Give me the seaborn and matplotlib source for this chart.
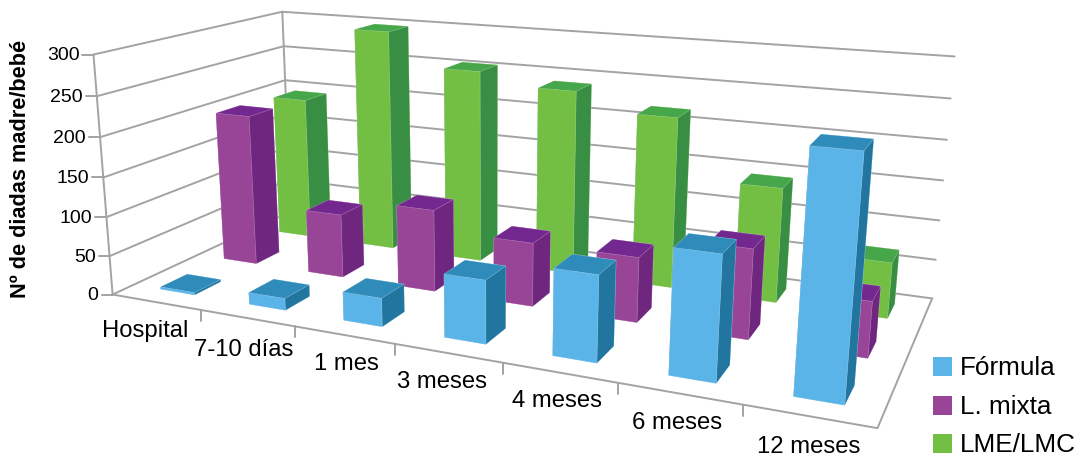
import numpy as np
import matplotlib
matplotlib.use("Agg")
import matplotlib.pyplot as plt
from matplotlib.lines import Line2D
from matplotlib.patches import Rectangle
from mpl_toolkits.mplot3d import Axes3D  # noqa: F401
import seaborn as sns

# Chart data
categories = ["Hospital", "7-10 días", "1 mes", "3 meses", "4 meses", "6 meses", "12 meses"]
series_names = ["Fórmula", "L. mixta", "LME/LMC"]
formula = [3, 15, 35, 76, 101, 142, 263]
mixta = [199, 83, 105, 80, 80, 108, 66]
lme = [195, 298, 255, 240, 218, 144, 69]
z_ticks = [0, 50, 100, 150, 200, 250, 300]
y_title = "Nº de diadas madre/bebé"

# Front, side and top shades per series
front_colors = ["#5AB4E8", "#984497", "#72BF44"]
side_colors = ["#21759F", "#6E267F", "#388E42"]
top_colors = ["#2F8BB9", "#73288F", "#46A64A"]

sns.set_theme(style="white")
plt.rcParams["font.family"] = ["Liberation Sans", "DejaVu Sans"]

W, H = 1078, 456
GREY = "#A3A3A3"
n = len(categories)
ZMAX = 300
BAR_W = 0.39
BAR_D = 0.135
BAND = 1 / 3
X_SHIFT = 0.012
DEPTH_START = 0.168
LINE_W = 1.4

# Camera calibration: box corners and axis ticks (x, depth, z) -> pixel position
calib = [
    ((0, 0, 0), (112.7, 294)), ((0, 0, 300), (93, 55)), ((0, 0, 150), (101.7, 177.7)),
    ((0, 1, 300), (283.5, 13.5)), ((0, 1, 0), (289, 213)),
    ((7, 1, 300), (954.3, 57.7)), ((7, 1, 150), (943.3, 181)), ((7, 1, 0), (932.7, 298.3)),
    ((7, 0, 0), (878.7, 429.3)), ((1, 0, 0), (202.3, 311.7)), ((2, 0, 0), (297.3, 328.3)),
    ((3, 0, 0), (394, 345)), ((6, 0, 0), (740, 406.7)),
]


def camera_matrix():
    rows, rhs = [], []
    for (x, y, z), (px, py) in calib:
        a, b, c = x / 7, y, z / 300
        u, v = px / 1000, (H - py) / 1000
        rows.append([a, b, c, 1, 0, 0, 0, 0, -u * a, -u * b, -u * c])
        rhs.append(u)
        rows.append([0, 0, 0, 0, a, b, c, 1, -v * a, -v * b, -v * c])
        rhs.append(v)
    h = np.linalg.lstsq(np.array(rows), np.array(rhs), rcond=None)[0]
    scale = np.diag([1 / 7, 1, 1 / 300, 1])
    top = np.array([h[:4], h[4:8]]) * 1000
    last = np.array([h[8], h[9], h[10], 1.0])
    depth = np.array([-1 / BAR_W, 1 / BAR_D, -1 / ZMAX, 0]) * np.array([7, 1, 300, 1])
    return np.vstack([top[0], top[1], depth, last]) @ scale


M = camera_matrix()


def project(x, y, z):
    p = M @ np.array([x, y, z, 1.0])
    return p[0] / p[3], p[1] / p[3]


fig = plt.figure(figsize=(W / 100, H / 100), dpi=100, facecolor="white")
# mplot3d keeps its axes square, so use a square that covers the whole canvas
ax = fig.add_axes([0, (H - W) / 2 / H, 1, W / H], projection="3d", computed_zorder=False)
ax.set_axis_off()
ax.patch.set_visible(False)
ax.set_proj_type("ortho")  # turns off the near-plane clipping of 3D lines
ax.get_proj = lambda: M
ax.viewLim.intervalx = (0, W)
ax.viewLim.intervaly = ((H - W) / 2, (H + W) / 2)

grid = dict(color=GREY, lw=LINE_W, zorder=1, solid_capstyle="round")
for z in z_ticks:
    ax.plot([0, 0, n], [0, 1, 1], [z, z, z], **grid)
ax.plot([0, 0], [0, 0], [0, ZMAX], **grid)
ax.plot([0, 0], [1, 1], [0, ZMAX], **grid)
ax.plot([0, n, n], [0, 0, 1], [0, 0, 0], **grid)

# Bars are painted from the back row forward and from right to left
rows = [formula, mixta, lme]
order = 10
for s in (2, 1, 0):
    for i in range(n - 1, -1, -1):
        f, t, r = front_colors[s], top_colors[s], side_colors[s]
        ax.bar3d(i + (1 - BAR_W) / 2 + X_SHIFT, DEPTH_START + s * BAND - BAR_D / 2, 0,
                 BAR_W, BAR_D, rows[s][i],
                 color=[f, t, f, f, r, r], shade=False, zorder=order,
                 edgecolor=(1, 1, 1, 0.25), linewidth=0.4)
        order += 1


def to_fig(px, py_up):
    return px / W, py_up / H


def hline(x0, y0, x1, y1):
    a = to_fig(x0, y0)
    b = to_fig(x1, y1)
    fig.add_artist(Line2D([a[0], b[0]], [a[1], b[1]], color=GREY, lw=LINE_W))


# Value axis: short ticks and labels beside the front-left edge
for z in z_ticks:
    px, py = project(0, 0, z)
    hline(px - 11, py, px, py)
    fx, fy = to_fig(px - 14, py)
    fig.text(fx, fy, str(z), ha="right", va="center", fontsize=14, color="black")

# Category axis: ticks drop straight down, labels sit left of the next tick
label_centers = [(145, 331), (244, 350), (346, 364), (442, 382), (557, 401), (677, 423), (809, 447)]
for i in range(1, n):
    px, py = project(i, 0, 0)
    hline(px, py, px, py - 11)
for name, (cx, cy) in zip(categories, label_centers):
    fx, fy = to_fig(cx, H - cy)
    fig.text(fx, fy, name, ha="center", va="center", fontsize=17.2, color="black")

fig.text(*to_fig(21, H - 169), y_title, rotation=90, ha="center", va="center",
         fontsize=15.7, fontweight="bold", color="black")

# Legend
for name, color, top in zip(series_names, front_colors, [358, 397, 435]):
    fig.add_artist(Rectangle(to_fig(933, H - top - 19), 19 / W, 19 / H,
                             transform=fig.transFigure, facecolor=color, edgecolor="none"))
    fig.text(*to_fig(960, H - top - 10), name, ha="left", va="center", fontsize=18.8, color="black")

fig.savefig("out.png", dpi=100)
